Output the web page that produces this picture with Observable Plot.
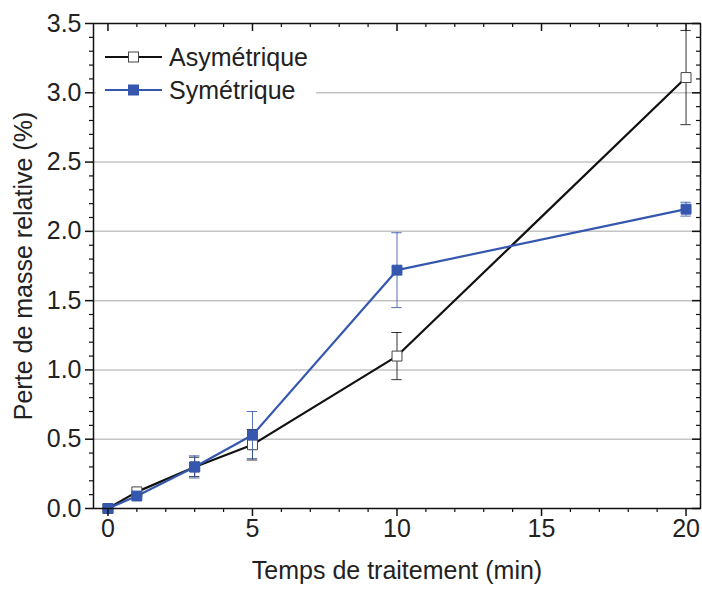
<!DOCTYPE html>
<html>
<head>
<meta charset="utf-8">
<script src="https://cdn.jsdelivr.net/npm/d3@7"></script>
<script src="https://cdn.jsdelivr.net/npm/@observablehq/plot@0.6"></script>
<style>
  body { margin: 0; background: white; }
  #wrap { position: relative; width: 702px; height: 590px; font-family: "Liberation Sans", Arial, sans-serif; }
  #legend { position: absolute; left: 96px; top: 37px; width: 220px; height: 68px; background: white; }
</style>
</head>
<body>
<div id="wrap"></div>
<script>
// ---- data ----
const times = [0, 1, 3, 5, 10, 20];
const asymMean = [0, 0.12, 0.30, 0.46, 1.10, 3.11];
const asymErr  = [0, 0.02, 0.07, 0.11, 0.17, 0.34];
const symMean  = [0, 0.09, 0.30, 0.53, 1.72, 2.16];
const symErr   = [0, 0.02, 0.08, 0.17, 0.27, 0.05];
const seriesNames = ["Asymétrique", "Symétrique"];
const xTicks = [0, 5, 10, 15, 20];
const yTicks = [0, 0.5, 1.0, 1.5, 2.0, 2.5, 3.0, 3.5];
const gridY = [0.5, 1.0, 1.5, 2.0, 2.5, 3.0];
const xTitle = "Temps de traitement (min)";
const yTitle = "Perte de masse relative (%)";

const blue = "#3557ad";
const black = "#111";
const FS = 25;

const xMinor = d3.range(0, 21, 1).filter(v => !xTicks.includes(v));
const yMinor = d3.range(0, 36, 1).map(v => v / 10).filter(v => !yTicks.some(t => Math.abs(t - v) < 1e-9));

const asym = times.map((t, i) => ({x: t, y: asymMean[i], lo: asymMean[i] - asymErr[i], hi: asymMean[i] + asymErr[i]}));
const sym  = times.map((t, i) => ({x: t, y: symMean[i],  lo: symMean[i] - symErr[i],  hi: symMean[i] + symErr[i]}));

const W = 702, H = 590, mT = 23, mB = 82, mL = 93, mR = 2;
const fw = W - mL - mR, fh = H - mT - mB;
const capHalf = 0.18;

function series(data, color, fill, stroke) {
  const withErr = data.filter(d => d.hi > d.lo + 0.05);
  return [
    Plot.ruleX(withErr, {x: "x", y1: "lo", y2: "hi", stroke: color, strokeWidth: 1, strokeOpacity: 0.85}),
    Plot.ruleY(withErr, {y: "hi", x1: d => d.x - capHalf, x2: d => d.x + capHalf, stroke: color, strokeWidth: 1, strokeOpacity: 0.85}),
    Plot.ruleY(withErr, {y: "lo", x1: d => d.x - capHalf, x2: d => d.x + capHalf, stroke: color, strokeWidth: 1, strokeOpacity: 0.85}),
    Plot.line(data, {x: "x", y: "y", stroke: color, strokeWidth: 2.2}),
    Plot.dot(data, {x: "x", y: "y", symbol: "square", r: 5.6, fill: fill, stroke: stroke, strokeWidth: 1})
  ];
}

const chart = Plot.plot({
  width: W, height: H,
  marginTop: mT, marginBottom: mB, marginLeft: mL, marginRight: mR,
  x: {domain: [-0.5, 20.5]},
  y: {domain: [0, 3.5]},
  style: {fontFamily: "'Liberation Sans', Arial, sans-serif", fontSize: FS + "px", color: "#222", background: "white"},
  marks: [
    Plot.ruleY(gridY, {stroke: "#c4c4c4", strokeWidth: 1.5}),
    ...series(asym, black, "white", "#444"),
    ...series(sym, blue, blue, blue),
    Plot.frame({stroke: "#111", strokeWidth: 1.5}),
    Plot.axisX({ticks: xTicks, tickSize: 8, tickPadding: 3, fontSize: FS, label: null, stroke: "#111", strokeWidth: 1.5, tickFormat: d => String(d)}),
    Plot.axisX({ticks: xMinor, tickSize: 4, label: null, stroke: "#111", strokeWidth: 1.2, tickFormat: () => ""}),
    Plot.axisY({ticks: yTicks, tickSize: 8, tickPadding: 4, fontSize: FS, label: null, stroke: "#111", strokeWidth: 1.5, tickFormat: d3.format(".1f")}),
    Plot.axisY({ticks: yMinor, tickSize: 4, label: null, stroke: "#111", strokeWidth: 1.2, tickFormat: () => ""}),
    Plot.ruleX(xTicks, {insetBottom: fh - 8, stroke: "#111", strokeWidth: 1.5}),
    Plot.ruleX(xMinor, {insetBottom: fh - 4, stroke: "#111", strokeWidth: 1.2}),
    Plot.ruleY(yTicks, {insetLeft: fw - 8, stroke: "#111", strokeWidth: 1.5}),
    Plot.ruleY(yMinor, {insetLeft: fw - 4, stroke: "#111", strokeWidth: 1.2}),
    Plot.text([xTitle], {frameAnchor: "bottom", dy: 70, fontSize: FS, fill: "#222", textAnchor: "middle"}),
    Plot.text([yTitle], {frameAnchor: "left", dx: -70, rotate: -90, fontSize: FS, fill: "#222", textAnchor: "middle"})
  ]
});

const wrap = document.getElementById("wrap");
wrap.appendChild(chart);

// legend overlay (white box hides grid line behind it)
const legend = document.createElement("div");
legend.id = "legend";
wrap.appendChild(legend);
const lsvg = d3.select(legend).append("svg").attr("width", 220).attr("height", 68)
  .style("font-family", "'Liberation Sans', Arial, sans-serif");
const legendItems = [
  {name: seriesNames[0], color: black, fill: "white", stroke: "#444", cy: 20},
  {name: seriesNames[1], color: blue, fill: blue, stroke: blue, cy: 53}
];
legendItems.forEach(it => {
  lsvg.append("line").attr("x1", 9).attr("x2", 66).attr("y1", it.cy).attr("y2", it.cy)
    .attr("stroke", it.color).attr("stroke-width", 2.2);
  lsvg.append("rect").attr("x", 37.5 - 5).attr("y", it.cy - 5).attr("width", 10).attr("height", 10)
    .attr("fill", it.fill).attr("stroke", it.stroke).attr("stroke-width", 1);
  lsvg.append("text").attr("x", 73).attr("y", it.cy).attr("dy", "0.35em")
    .attr("font-size", FS).attr("fill", "#222").text(it.name);
});
</script>
</body>
</html>
